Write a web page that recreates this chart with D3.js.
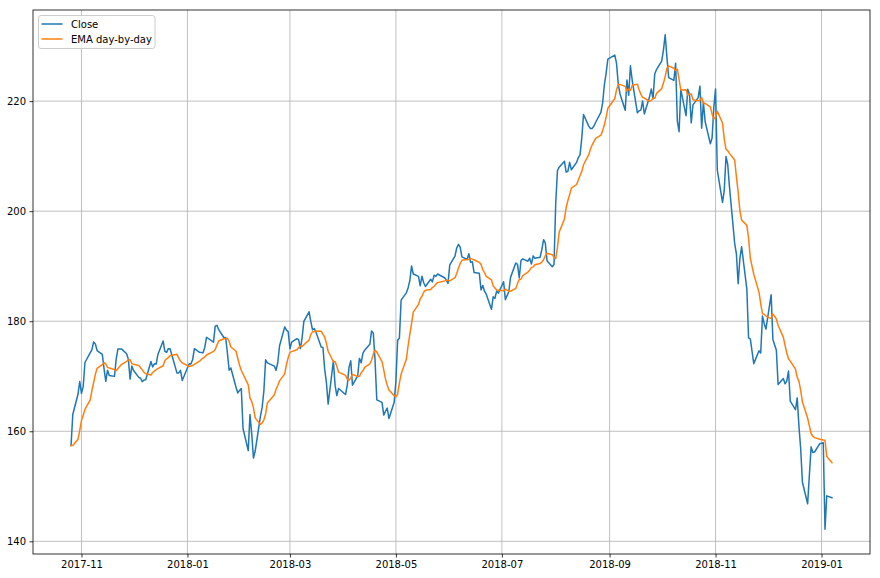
<!DOCTYPE html>
<html><head><meta charset="utf-8">
<script src="https://cdn.jsdelivr.net/npm/d3@7"></script>
<style>
body{margin:0;background:#fff}
svg{display:block}
text{font-family:"DejaVu Sans",sans-serif;font-size:10px;fill:#000}
</style>
</head><body>
<svg id="chart" width="880" height="578"></svg>
<script>
// ---- data (trading days) ----
const dates = [
"2017-10-26","2017-10-27","2017-10-30","2017-10-31",
"2017-11-01","2017-11-02","2017-11-03","2017-11-06","2017-11-07","2017-11-08","2017-11-09","2017-11-10","2017-11-13","2017-11-14","2017-11-15","2017-11-16","2017-11-17","2017-11-20","2017-11-21","2017-11-22","2017-11-24","2017-11-27","2017-11-28","2017-11-29","2017-11-30",
"2017-12-01","2017-12-04","2017-12-05","2017-12-06","2017-12-07","2017-12-08","2017-12-11","2017-12-12","2017-12-13","2017-12-14","2017-12-15","2017-12-18","2017-12-19","2017-12-20","2017-12-21","2017-12-22","2017-12-26","2017-12-27","2017-12-28","2017-12-29",
"2018-01-02","2018-01-03","2018-01-04","2018-01-05","2018-01-08","2018-01-09","2018-01-10","2018-01-11","2018-01-12","2018-01-16","2018-01-17","2018-01-18","2018-01-19","2018-01-22","2018-01-23","2018-01-24","2018-01-25","2018-01-26","2018-01-29","2018-01-30","2018-01-31",
"2018-02-01","2018-02-02","2018-02-05","2018-02-06","2018-02-07","2018-02-08","2018-02-09","2018-02-12","2018-02-13","2018-02-14","2018-02-15","2018-02-16","2018-02-20","2018-02-21","2018-02-22","2018-02-23","2018-02-26","2018-02-27","2018-02-28",
"2018-03-01","2018-03-02","2018-03-05","2018-03-06","2018-03-07","2018-03-08","2018-03-09","2018-03-12","2018-03-13","2018-03-14","2018-03-15","2018-03-16","2018-03-19","2018-03-20","2018-03-21","2018-03-22","2018-03-23","2018-03-26","2018-03-27","2018-03-28","2018-03-29",
"2018-04-02","2018-04-03","2018-04-04","2018-04-05","2018-04-06","2018-04-09","2018-04-10","2018-04-11","2018-04-12","2018-04-13","2018-04-16","2018-04-17","2018-04-18","2018-04-19","2018-04-20","2018-04-23","2018-04-24","2018-04-25","2018-04-26","2018-04-27","2018-04-30",
"2018-05-01","2018-05-02","2018-05-03","2018-05-04","2018-05-07","2018-05-08","2018-05-09","2018-05-10","2018-05-11","2018-05-14","2018-05-15","2018-05-16","2018-05-17","2018-05-18","2018-05-21","2018-05-22","2018-05-23","2018-05-24","2018-05-25","2018-05-29","2018-05-30","2018-05-31",
"2018-06-01","2018-06-04","2018-06-05","2018-06-06","2018-06-07","2018-06-08","2018-06-11","2018-06-12","2018-06-13","2018-06-14","2018-06-15","2018-06-18","2018-06-19","2018-06-20","2018-06-21","2018-06-22","2018-06-25","2018-06-26","2018-06-27","2018-06-28","2018-06-29",
"2018-07-02","2018-07-03","2018-07-05","2018-07-06","2018-07-09","2018-07-10","2018-07-11","2018-07-12","2018-07-13","2018-07-16","2018-07-17","2018-07-18","2018-07-19","2018-07-20","2018-07-23","2018-07-24","2018-07-25","2018-07-26","2018-07-27","2018-07-30","2018-07-31",
"2018-08-01","2018-08-02","2018-08-03","2018-08-06","2018-08-07","2018-08-08","2018-08-09","2018-08-10","2018-08-13","2018-08-14","2018-08-15","2018-08-16","2018-08-17","2018-08-20","2018-08-21","2018-08-22","2018-08-23","2018-08-24","2018-08-27","2018-08-28","2018-08-29","2018-08-30","2018-08-31",
"2018-09-04","2018-09-05","2018-09-06","2018-09-07","2018-09-10","2018-09-11","2018-09-12","2018-09-13","2018-09-14","2018-09-17","2018-09-18","2018-09-19","2018-09-20","2018-09-21","2018-09-24","2018-09-25","2018-09-26","2018-09-27","2018-09-28",
"2018-10-01","2018-10-02","2018-10-03","2018-10-04","2018-10-05","2018-10-08","2018-10-09","2018-10-10","2018-10-11","2018-10-12","2018-10-15","2018-10-16","2018-10-17","2018-10-18","2018-10-19","2018-10-22","2018-10-23","2018-10-24","2018-10-25","2018-10-26","2018-10-29","2018-10-30","2018-10-31",
"2018-11-01","2018-11-02","2018-11-05","2018-11-06","2018-11-07","2018-11-08","2018-11-09","2018-11-12","2018-11-13","2018-11-14","2018-11-15","2018-11-16","2018-11-19","2018-11-20","2018-11-21","2018-11-23","2018-11-26","2018-11-27","2018-11-28","2018-11-29","2018-11-30",
"2018-12-03","2018-12-04","2018-12-06","2018-12-07","2018-12-10","2018-12-11","2018-12-12","2018-12-13","2018-12-14","2018-12-17","2018-12-18","2018-12-19","2018-12-20","2018-12-21","2018-12-24","2018-12-26","2018-12-27","2018-12-28","2018-12-31",
"2019-01-02","2019-01-03","2019-01-04","2019-01-07"
];

const closeValues = [
157.41,163.05,166.72,169.04,
166.89,168.11,172.50,174.25,174.81,176.24,175.88,174.67,173.97,171.34,169.08,171.10,170.15,169.98,173.14,174.96,174.97,174.09,173.07,169.48,171.85,
171.05,169.80,169.64,169.01,169.32,169.37,172.67,171.70,172.27,172.22,173.97,176.42,174.54,174.35,175.01,175.01,170.57,170.60,171.08,169.23,
172.26,172.23,173.03,175.00,174.35,174.33,174.29,175.28,177.09,176.19,179.10,179.26,178.46,177.00,177.04,174.22,171.11,171.51,167.96,166.97,167.43,
167.78,160.50,156.49,163.03,159.54,155.15,156.41,162.71,164.34,167.37,172.99,172.43,171.85,171.07,172.50,175.50,178.97,178.39,178.12,
175.00,176.21,176.82,176.67,175.03,176.94,179.98,181.72,179.97,178.44,178.65,178.02,175.30,175.24,171.27,168.85,164.94,172.77,168.34,166.48,167.78,
166.68,168.39,171.61,172.80,168.38,170.05,173.25,172.44,174.14,174.73,175.82,178.24,177.84,172.80,165.72,165.24,162.94,163.65,164.22,162.32,165.26,
169.10,176.57,176.89,183.83,185.16,186.05,187.36,190.04,188.59,188.15,186.44,188.18,186.99,186.31,187.63,187.16,188.36,188.15,188.58,187.90,187.50,186.87,
190.24,191.83,193.31,193.98,193.46,191.70,191.23,192.28,190.70,190.80,188.84,188.74,185.69,186.50,185.46,184.92,182.17,184.43,184.16,185.50,185.11,
187.18,183.92,185.40,187.97,190.58,190.35,187.88,191.03,191.33,190.91,191.45,190.40,191.88,191.44,191.61,193.00,194.82,194.21,190.98,189.91,190.29,
201.50,207.39,207.99,209.07,207.11,207.25,208.88,207.53,208.87,209.75,210.24,213.32,217.58,215.46,215.04,215.05,215.49,216.16,217.94,219.70,222.98,225.03,227.63,
228.36,226.87,223.10,221.30,218.33,223.85,221.07,226.41,223.84,217.88,218.24,218.37,220.03,217.66,220.79,222.19,220.42,224.95,225.74,
227.26,229.28,232.07,227.99,224.29,223.77,226.87,216.36,214.45,222.11,217.36,222.15,221.19,216.02,219.31,220.65,222.73,215.09,219.80,216.30,212.24,213.30,218.86,
222.22,207.48,201.59,203.77,209.95,208.49,204.47,194.17,192.23,186.80,191.41,193.53,185.86,176.98,176.78,172.29,174.62,174.24,180.94,179.55,178.58,
184.82,176.69,174.72,168.49,169.60,168.63,169.10,170.95,165.48,163.94,166.07,160.89,156.83,150.73,146.83,157.17,156.15,156.23,157.74,
157.92,142.19,148.26,147.93
];

const emaValues = [
157.41,157.41,158.54,160.17,
161.95,162.93,163.97,165.67,167.39,168.87,170.35,171.45,172.10,172.47,172.25,171.61,171.51,171.24,170.99,171.42,172.13,172.70,172.97,172.99,172.29,
172.20,171.97,171.54,171.16,170.73,170.45,170.23,170.72,170.92,171.19,171.40,171.91,172.81,173.16,173.40,173.72,173.98,173.30,172.76,172.42,
171.78,171.88,171.95,172.17,172.74,173.06,173.31,173.51,173.86,174.51,174.85,175.70,176.41,176.82,176.86,176.89,176.36,175.31,174.55,173.23,171.98,
171.07,170.41,168.43,166.04,165.44,164.26,162.44,161.23,161.53,162.09,163.15,165.12,166.58,167.63,168.32,169.16,170.43,172.14,173.39,
174.34,174.47,174.82,175.22,175.51,175.41,175.72,176.57,177.60,178.07,178.14,178.24,178.20,177.62,177.14,175.97,174.55,172.63,172.66,171.80,170.74,
170.15,169.46,169.25,169.72,170.34,169.95,169.97,170.63,170.99,171.62,172.24,172.96,174.02,174.78,174.38,172.65,171.17,169.52,168.35,167.52,166.48,
166.24,166.81,168.76,170.39,173.08,175.50,177.61,179.56,181.66,183.05,184.07,184.54,185.27,185.61,185.75,186.13,186.34,186.74,187.02,187.33,187.44,187.45,
187.33,187.91,188.69,189.61,190.48,191.08,191.20,191.21,191.42,191.28,191.18,190.71,190.32,189.39,188.81,188.14,187.50,186.43,186.03,185.66,185.63,
185.52,185.85,185.47,185.45,185.96,186.88,187.58,187.64,188.31,188.92,189.32,189.74,189.87,190.28,190.51,190.73,191.18,191.91,192.37,192.09,191.66,
191.38,193.41,196.20,198.56,200.66,201.95,203.01,204.19,204.85,205.66,206.47,207.23,208.44,210.27,211.31,212.06,212.65,213.22,213.81,214.64,215.65,217.11,218.70,
220.48,222.06,223.02,223.04,222.69,221.82,222.22,221.99,222.88,223.07,222.03,221.27,220.69,220.56,219.98,220.14,220.55,220.52,221.41,
222.28,223.28,224.48,226.00,226.40,225.98,225.54,225.81,223.92,222.03,222.05,221.11,221.32,221.29,220.24,220.05,220.17,220.68,219.56,219.61,218.95,217.61,216.75,
217.17,218.18,216.04,213.15,211.27,211.01,210.51,209.30,206.27,203.46,200.13,198.39,197.42,195.11,191.48,188.54,185.29,183.16,181.37,181.29,180.94,
180.47,181.34,180.41,179.27,177.12,175.61,174.22,173.19,172.75,171.29,169.82,169.07,167.44,165.31,162.40,159.60,159.10,158.85,158.55,
158.40,158.35,155.40,154.30
];

const seriesNames = ["Close", "EMA day-by-day"];
const seriesColors = ["#1f77b4", "#ff7f0e"];
const xTickDates = ["2017-11-01","2018-01-01","2018-03-01","2018-05-01","2018-07-01","2018-09-01","2018-11-01","2019-01-01"];
const yTickValues = [140, 160, 180, 200, 220];

// ---- layout ----
const W = 880, H = 578;
const m = {left: 33, right: 870, top: 10, bottom: 554};
const parse = d3.utcParse("%Y-%m-%d");
const dt = dates.map(parse);

// matplotlib-like 5% margins
const xExt = d3.extent(dt);
const xPad = (xExt[1] - xExt[0]) * 0.05;
const allVals = closeValues.concat(emaValues);
const yExt = d3.extent(allVals);
const yPad = (yExt[1] - yExt[0]) * 0.05;

const x = d3.scaleUtc()
  .domain([new Date(+xExt[0] - xPad), new Date(+xExt[1] + xPad)])
  .range([m.left, m.right]);
const y = d3.scaleLinear()
  .domain([yExt[0] - yPad, yExt[1] + yPad])
  .range([m.bottom, m.top]);

const svg = d3.select("#chart");
svg.append("rect").attr("width", W).attr("height", H).attr("fill", "#fff");

const xt = xTickDates.map(parse);

// grid
const grid = svg.append("g").attr("stroke", "#b0b0b0").attr("stroke-width", 0.8);
grid.selectAll("line.gx").data(xt).join("line")
  .attr("x1", d => x(d)).attr("x2", d => x(d))
  .attr("y1", m.top).attr("y2", m.bottom);
grid.selectAll("line.gy").data(yTickValues).join("line")
  .attr("y1", d => y(d)).attr("y2", d => y(d))
  .attr("x1", m.left).attr("x2", m.right);

// lines
const series = [closeValues, emaValues];
const lineGen = vals => d3.line()
  .x((d, i) => x(dt[i]))
  .y(d => y(d))(vals);
series.forEach((vals, k) => {
  svg.append("path")
    .attr("d", lineGen(vals))
    .attr("fill", "none")
    .attr("stroke", seriesColors[k])
    .attr("stroke-width", 1.5)
    .attr("stroke-linejoin", "round")
    .attr("stroke-linecap", "square");
});

// axes
const fmt = d3.utcFormat("%Y-%m");
const xAxis = d3.axisBottom(x).tickValues(xt).tickFormat(fmt).tickSize(3.5).tickPadding(3.5);
const yAxis = d3.axisLeft(y).tickValues(yTickValues).tickFormat(d3.format("d")).tickSize(3.5).tickPadding(3.5);

const gx = svg.append("g").attr("transform", `translate(0,${m.bottom})`).call(xAxis);
const gy = svg.append("g").attr("transform", `translate(${m.left},0)`).call(yAxis);
[gx, gy].forEach(g => {
  g.select(".domain").remove();
  g.selectAll(".tick line").attr("stroke", "#000").attr("stroke-width", 0.8);
  g.selectAll(".tick text").attr("font-family", "DejaVu Sans, sans-serif").attr("font-size", 10).attr("fill", "#000");
});

// spines
svg.append("rect")
  .attr("x", m.left).attr("y", m.top)
  .attr("width", m.right - m.left).attr("height", m.bottom - m.top)
  .attr("fill", "none").attr("stroke", "#000").attr("stroke-width", 0.8);

// legend
const lg = svg.append("g");
lg.append("rect")
  .attr("x", 38.5).attr("y", 15.5).attr("width", 116.5).attr("height", 33)
  .attr("rx", 2.5).attr("fill", "#fff").attr("fill-opacity", 0.8)
  .attr("stroke", "#cccccc").attr("stroke-width", 1);
seriesNames.forEach((name, k) => {
  const yy = 24 + k * 15;
  lg.append("line").attr("x1", 41.5).attr("x2", 62.5).attr("y1", yy).attr("y2", yy)
    .attr("stroke", seriesColors[k]).attr("stroke-width", 1.5);
  lg.append("text").attr("x", 71).attr("y", yy + 4).text(name);
});
</script>
</body></html>
